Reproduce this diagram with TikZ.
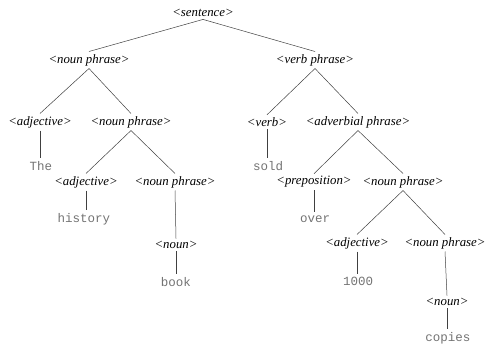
\documentclass[tikz,border=0pt]{standalone}
\usepackage{fontspec}
\setmainfont{Liberation Serif}
\setmonofont{Liberation Mono}
\begin{document}
\begin{tikzpicture}[x=1pt,y=-1pt,
  nt/.style={font=\fontsize{12.8}{14}\selectfont\itshape, inner sep=2.5pt},
  tm/.style={font=\fontsize{12.5}{14}\selectfont\ttfamily, text=black!55, inner sep=1pt},
  edge/.style={draw=black!75, line width=0.5pt},
  tedge/.style={edge, shorten >=2pt}]
\useasboundingbox (0,0) rectangle (485,345);
\node[nt] (s) at (203,13) {<sentence>};
\node[nt] (np1) at (89,60) {<noun phrase>};
\node[nt] (vp) at (315,60) {<verb phrase>};
\node[nt] (adj1) at (40,122) {<adjective>};
\node[nt] (np2) at (131,122) {<noun phrase>};
\node[nt] (v) at (267,122) {<verb>};
\node[nt] (advp) at (358,122) {<adverbial phrase>};
\node[tm] (the) at (41,166) {The};
\node[tm] (sold) at (268,166) {sold};
\node[nt] (adj2) at (86,182) {<adjective>};
\node[nt] (np3) at (175,182) {<noun phrase>};
\node[nt] (prep) at (314,182) {<preposition>};
\node[nt] (np4) at (403,182) {<noun phrase>};
\node[tm] (hist) at (84,219) {history};
\node[tm] (over) at (315,219) {over};
\node[nt] (adj3) at (357,243) {<adjective>};
\node[nt] (np5) at (445,243) {<noun phrase>};
\node[nt] (n1) at (176,245) {<noun>};
\node[tm] (book) at (176,282) {book};
\node[tm] (k) at (358,281) {1000};
\node[nt] (n2) at (447,302) {<noun>};
\node[tm] (copies) at (448,338) {copies};
\draw[edge] (s.south) -- (np1.north);
\draw[edge] (s.south) -- (vp.north);
\draw[edge] (np1.south) -- (adj1.north);
\draw[edge] (np1.south) -- (np2.north);
\draw[edge] (vp.south) -- (v.north);
\draw[edge] (vp.south) -- (advp.north);
\draw[tedge] (adj1.south) -- (the.north -| adj1.south);
\draw[tedge] (v.south) -- (sold.north -| v.south);
\draw[edge] (np2.south) -- (adj2.north);
\draw[edge] (np2.south) -- (np3.north);
\draw[edge] (advp.south) -- (prep.north);
\draw[edge] (advp.south) -- (np4.north);
\draw[tedge] (adj2.south) -- (hist.north -| adj2.south);
\draw[tedge] (prep.south) -- (over.north -| prep.south);
\draw[edge] (np3.south) -- (n1.north);
\draw[tedge] (n1.south) -- (book.north -| n1.south);
\draw[edge] (np4.south) -- (adj3.north);
\draw[edge] (np4.south) -- (np5.north);
\draw[tedge] (adj3.south) -- (k.north -| adj3.south);
\draw[edge] (np5.south) -- (n2.north);
\draw[tedge] (n2.south) -- (copies.north -| n2.south);
\end{tikzpicture}
\end{document}
